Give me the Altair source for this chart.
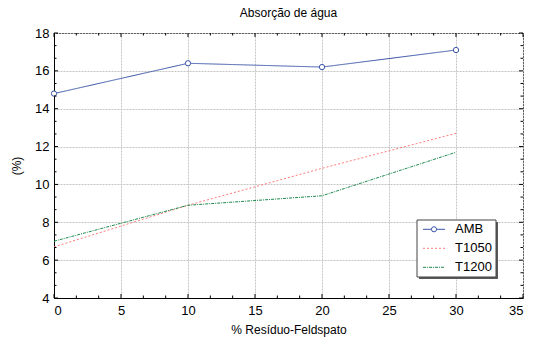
import altair as alt
import pandas as pd

x_vals = [0, 10, 20, 30]
amb = [14.8, 16.4, 16.2, 17.1]
t1050 = [6.7, 8.9, 10.85, 12.7]
t1200 = [7.0, 8.9, 9.4, 11.7]
series_names = ["AMB", "T1050", "T1200"]
series_colors = ["#3a55a8", "#ff7b7b", "#1f8a4c"]
series_dash = [[1, 0], [2, 2], [3, 1, 1, 1]]
x_major = [0, 5, 10, 15, 20, 25, 30, 35]
y_major = [4, 6, 8, 10, 12, 14, 16, 18]

rows = []
for name, vals in zip(series_names, [amb, t1050, t1200]):
    for xv, yv in zip(x_vals, vals):
        rows.append({"x": xv, "y": yv, "serie": name})
df = pd.DataFrame(rows)

FONT = "Liberation Sans"
W, H = 469, 265

# tick decorations (major + two minor ticks between majors)
x_ticks = [x_major[0] + i * 5 / 3 for i in range(0, 22)]
y_ticks = [y_major[0] + i * 2 / 3 for i in range(0, 22)]
xt = pd.DataFrame({"v": x_ticks, "len": [4 if i % 3 == 0 else 2.5 for i in range(22)]})
yt = pd.DataFrame({"v": y_ticks, "len": [4 if i % 3 == 0 else 2.5 for i in range(22)]})

xscale = alt.Scale(domain=[0, 35], nice=False, zero=False)
yscale = alt.Scale(domain=[4, 18], nice=False, zero=False)

x_axis = alt.Axis(
    title="% Resíduo-Feldspato", values=x_major, format="d", labelOverlap=False,
    grid=True, gridColor="#c4c4c4", gridDash=[2, 1], gridWidth=1,
    ticks=False, tickSize=0, domain=True, domainColor="black",
    labelPadding=6, titlePadding=7,
)
y_axis = alt.Axis(
    title="(%)", values=y_major, format="d", labelOverlap=False,
    grid=True, gridColor="#c4c4c4", gridDash=[2, 1], gridWidth=1,
    ticks=False, tickSize=0, domain=True, domainColor="black",
    labelPadding=5, titlePadding=11,
)

color = alt.Color("serie:N", scale=alt.Scale(domain=series_names, range=series_colors), legend=None)
dash = alt.StrokeDash("serie:N", scale=alt.Scale(domain=series_names, range=series_dash), legend=None)

lines = alt.Chart(df).mark_line(strokeWidth=1).encode(
    x=alt.X("x:Q", scale=xscale, axis=x_axis),
    y=alt.Y("y:Q", scale=yscale, axis=y_axis),
    color=color,
    strokeDash=dash,
)

points = alt.Chart(df[df["serie"] == "AMB"]).mark_point(
    shape="circle", filled=True, fill="white", stroke="#3a55a8", strokeWidth=1, size=28, opacity=1
).encode(
    x=alt.X("x:Q", scale=xscale, axis=x_axis),
    y=alt.Y("y:Q", scale=yscale, axis=y_axis),
)

# inward ticks on all four sides
tick_bottom = alt.Chart(xt).transform_calculate(y0=f"{H} - datum.len", y1=f"{H}").mark_rule(
    color="black", strokeWidth=1).encode(
    x=alt.X("v:Q", scale=xscale, axis=x_axis), y=alt.Y("y0:Q", scale=None), y2="y1:Q")
tick_top = alt.Chart(xt).transform_calculate(y0="0", y1="datum.len").mark_rule(
    color="black", strokeWidth=1).encode(
    x=alt.X("v:Q", scale=xscale, axis=x_axis), y=alt.Y("y0:Q", scale=None), y2="y1:Q")
tick_left = alt.Chart(yt).transform_calculate(x0="0", x1="datum.len").mark_rule(
    color="black", strokeWidth=1).encode(
    y=alt.Y("v:Q", scale=yscale, axis=y_axis), x=alt.X("x0:Q", scale=None), x2="x1:Q")
tick_right = alt.Chart(yt).transform_calculate(x0=f"{W} - datum.len", x1=f"{W}").mark_rule(
    color="black", strokeWidth=1).encode(
    y=alt.Y("v:Q", scale=yscale, axis=y_axis), x=alt.X("x0:Q", scale=None), x2="x1:Q")

# legend box (drawn inside the plot, lower right)
LX0, LX1, LY0, LY1 = 363, 442, 187, 244
one = pd.DataFrame({"k": [0]})
leg_shadow = alt.Chart(one).mark_rect(fill="#5a5a5a").encode(
    x=alt.value(LX0 + 2), x2=alt.value(LX1 + 2), y=alt.value(LY0 + 2), y2=alt.value(LY1 + 2))
leg_box = alt.Chart(one).mark_rect(fill="white", stroke="#444444", strokeWidth=1).encode(
    x=alt.value(LX0), x2=alt.value(LX1), y=alt.value(LY0), y2=alt.value(LY1))

leg = pd.DataFrame({"serie": series_names, "idx": list(range(len(series_names)))})
leg_base = alt.Chart(leg).transform_calculate(py="196.3 + datum.idx * 19")
leg_lines = leg_base.mark_rule(strokeWidth=1).encode(
    x=alt.value(369), x2=alt.value(391), y=alt.Y("py:Q", scale=None),
    color=color, strokeDash=dash)
leg_pt = leg_base.transform_filter("datum.idx == 0").mark_point(
    shape="circle", filled=True, fill="white", stroke="#3a55a8", strokeWidth=1, size=26, opacity=1
).encode(x=alt.value(380), y=alt.Y("py:Q", scale=None))
leg_text = leg_base.mark_text(align="left", baseline="middle", font=FONT, fontSize=13, color="black").encode(
    x=alt.value(401), y=alt.Y("py:Q", scale=None), text="serie:N")

chart = alt.layer(
    lines, points, tick_bottom, tick_top, tick_left, tick_right,
    leg_shadow, leg_box, leg_lines, leg_pt, leg_text
).properties(
    width=W, height=H,
    title=alt.TitleParams("Absorção de água", font=FONT, fontSize=12, fontWeight="normal",
                          color="black", offset=7),
    autosize=alt.AutoSizeParams(type="none"),
    padding={"left": 54, "top": 33, "right": 10, "bottom": 47},
    background="white",
).configure_view(stroke="black", strokeWidth=1).configure_axis(
    labelFont=FONT, labelFontSize=13, labelColor="black",
    titleFont=FONT, titleFontSize=12, titleFontWeight="normal", titleColor="black",
)

chart.save("out.html", embed_options={"renderer": "svg", "actions": False})
